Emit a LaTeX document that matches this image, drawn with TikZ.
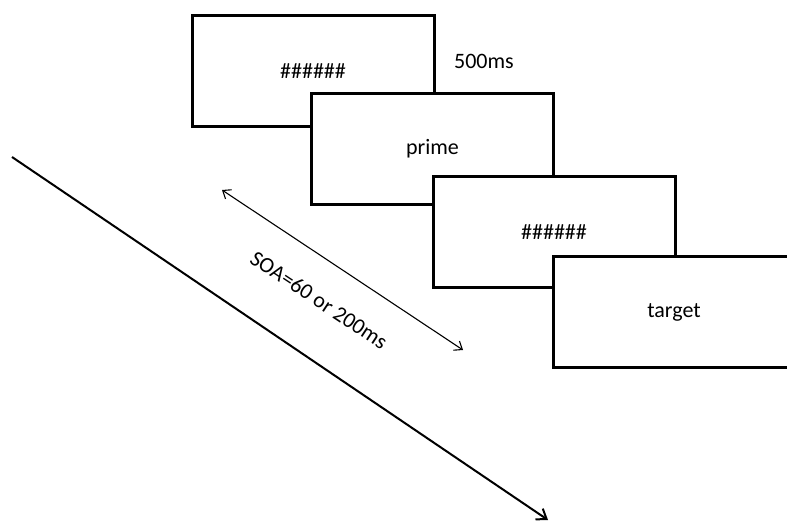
\documentclass[tikz,border=0pt]{standalone}
\usepackage{fontspec}
\setmainfont{Carlito}
\usetikzlibrary{arrows.meta}
\begin{document}
\begin{tikzpicture}[x=1pt,y=-1pt,
  screen/.style={draw=black, line width=3pt, fill=white, minimum width=242pt,
    minimum height=111pt, inner sep=0pt, font=\fontsize{22}{26}\selectfont},
  lbl/.style={font=\fontsize{22}{26}\selectfont, inner sep=0pt},
  timearrow/.style={line width=2pt, -{Straight Barb[length=9pt,width=13pt,line width=2pt]}},
  soaarrow/.style={line width=1.1pt, {Straight Barb[length=7pt,width=11pt]}-{Straight Barb[length=7pt,width=11pt]}}]
  \useasboundingbox (0,0) rectangle (787,521);
  \clip (0,0) rectangle (787,521);
  \fill[white] (0,0) rectangle (787,521);
  % stacked display screens, each in front of the previous one
  \node[screen] (mask1)  at (313,71.5)  {\#\#\#\#\#\#};
  \node[screen] (prime)  at (432.5,149) {prime};
  \node[screen] (mask2)  at (554,232.5) {\#\#\#\#\#\#};
  \node[screen] (target) at (674,312)   {target};
  \node[lbl] (dur) at (484,61) {500ms};
  % SOA interval
  \coordinate (soaA) at (222,190);
  \coordinate (soaB) at (463,350);
  \draw[soaarrow] (soaA) -- (soaB);
  \node[lbl, rotate=-33.5] (soa) at (319,300) {SOA=60 or 200ms};
  % time axis
  \coordinate (t0) at (12,157);
  \coordinate (t1) at (548,520);
  \draw[timearrow] (t0) -- (t1);
\end{tikzpicture}
\end{document}
